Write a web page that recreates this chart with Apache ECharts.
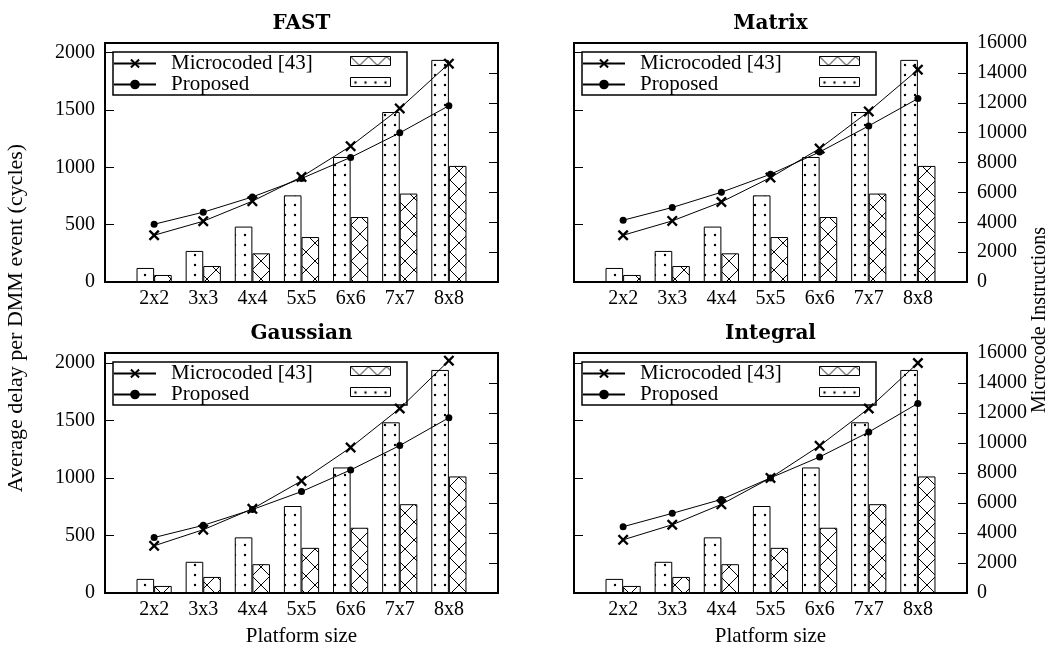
<!DOCTYPE html>
<html lang="en">
<head>
<meta charset="UTF-8">
<title>DMM delay per platform size</title>
<script src="https://cdn.jsdelivr.net/npm/echarts@6/dist/echarts.min.js"></script>
<style>
html,body{margin:0;padding:0;width:100%;height:100%;background:#fff;}
#main{width:1051px;height:649px;}
</style>
</head>
<body>
<div id="main"></div>
<script>
var platforms = ['2x2', '3x3', '4x4', '5x5', '6x6', '7x7', '8x8'];

// microcode instructions (right axis), same bars in every panel
var instrProposed = [940, 2080, 3710, 5800, 8370, 11380, 14870];
var instrMicro = [470, 1070, 1920, 3010, 4350, 5920, 7770];

// average delay per DMM event (cycles)
var fastMicro = [408, 530, 705, 917, 1185, 1514, 1905];
var fastProposed = [504, 609, 742, 903, 1087, 1301, 1538];
var matrixMicro = [408, 533, 698, 911, 1164, 1488, 1852];
var matrixProposed = [539, 650, 783, 940, 1134, 1362, 1600];
var gaussMicro = [410, 550, 731, 974, 1264, 1603, 2018];
var gaussProposed = [482, 588, 725, 881, 1069, 1281, 1522];
var integralMicro = [462, 593, 770, 1000, 1279, 1603, 1998];
var integralProposed = [576, 692, 813, 1000, 1182, 1398, 1647];

var titles = ['FAST', 'Matrix', 'Gaussian', 'Integral'];
var delayMicro = [fastMicro, matrixMicro, gaussMicro, integralMicro];
var delayProposed = [fastProposed, matrixProposed, gaussProposed, integralProposed];

var FONT = 'Liberation Serif';

function dotTile() {
    var c = document.createElement('canvas');
    c.width = 10; c.height = 10;
    var g = c.getContext('2d');
    g.fillStyle = '#fff';
    g.fillRect(0, 0, 10, 10);
    g.fillStyle = '#000';
    g.beginPath();
    g.arc(5, 5, 1.2, 0, Math.PI * 2);
    g.fill();
    return c;
}
function hatchTile() {
    var c = document.createElement('canvas');
    c.width = 18; c.height = 18;
    var g = c.getContext('2d');
    g.fillStyle = '#fff';
    g.fillRect(0, 0, 18, 18);
    g.strokeStyle = '#000';
    g.lineWidth = 1;
    g.beginPath();
    g.moveTo(0, 0); g.lineTo(18, 18);
    g.moveTo(18, 0); g.lineTo(0, 18);
    g.stroke();
    return c;
}
var dots = { image: dotTile(), repeat: 'repeat' };
var hatch = { image: hatchTile(), repeat: 'repeat' };
var xMark = 'path://M0,1.5L1.5,0L5,3.5L8.5,0L10,1.5L6.5,5L10,8.5L8.5,10L5,6.5L1.5,10L0,8.5L3.5,5Z';

// panel frames: left, top, height
var boxes = [[105, 43, 239], [574, 43, 239], [105, 353, 240], [574, 353, 240]];
var W = 393;

function pad(arr, v) { return [v].concat(arr, [v]); }
function plain(v) { return String(v); }

var grid = [], xAxis = [], yAxis = [], series = [], legend = [], graphic = [];

boxes.forEach(function (b, i) {
    var isLeft = (i % 2 === 0);
    grid.push({ left: b[0], top: b[1], width: W, height: b[2], show: true, borderColor: '#000', borderWidth: 2, backgroundColor: 'transparent' });
    xAxis.push({
        type: 'category', gridIndex: i, data: pad(platforms, ''), boundaryGap: false,
        axisLine: { show: false }, axisTick: { show: false }, splitLine: { show: false },
        axisLabel: { interval: 0, margin: 7, color: '#000', fontFamily: FONT, fontSize: 20 }
    });
    yAxis.push({
        type: 'value', gridIndex: i, position: 'left', min: 0, max: 2085, interval: 500,
        axisLine: { show: false }, splitLine: { show: false },
        axisTick: { show: true, inside: true, length: 9, lineStyle: { color: '#000', width: 1 } },
        axisLabel: { show: isLeft, showMaxLabel: false, margin: 10, formatter: plain, color: '#000', fontFamily: FONT, fontSize: 20 }
    });
    yAxis.push({
        type: 'value', gridIndex: i, position: 'right', min: 0, max: 16000, interval: 2000,
        axisLine: { show: false }, splitLine: { show: false },
        axisTick: { show: true, inside: true, length: 9, lineStyle: { color: '#000', width: 1 } },
        axisLabel: { show: !isLeft, margin: 10, formatter: plain, color: '#000', fontFamily: FONT, fontSize: 20 }
    });
    series.push({
        name: 'Proposed instr', type: 'bar', xAxisIndex: i, yAxisIndex: 2 * i + 1,
        data: pad(instrProposed, '-'), barWidth: 17.6, barGap: '0%',
        itemStyle: { color: dots, borderColor: '#000', borderWidth: 1 }
    });
    series.push({
        name: 'Microcoded instr', type: 'bar', xAxisIndex: i, yAxisIndex: 2 * i + 1,
        data: pad(instrMicro, '-'), barWidth: 17.6, barGap: '0%',
        itemStyle: { color: hatch, borderColor: '#000', borderWidth: 1 }
    });
    series.push({
        name: 'Microcoded [43]', type: 'line', xAxisIndex: i, yAxisIndex: 2 * i,
        data: pad(delayMicro[i], '-'), symbol: xMark, symbolSize: 11,
        itemStyle: { color: '#000' }, lineStyle: { color: '#000', width: 1 }, z: 5
    });
    series.push({
        name: 'Proposed', type: 'line', xAxisIndex: i, yAxisIndex: 2 * i,
        data: pad(delayProposed[i], '-'), symbol: 'circle', symbolSize: 7,
        itemStyle: { color: '#000' }, lineStyle: { color: '#000', width: 1 }, z: 5
    });
    legend.push({
        left: b[0] + 8, top: b[1] + 10, orient: 'vertical', padding: 0, itemGap: 0,
        itemWidth: 42, itemHeight: 12, selectedMode: false,
        data: ['Microcoded [43]', 'Proposed'],
        textStyle: { fontFamily: FONT, fontSize: 21, color: '#000', lineHeight: 20, padding: [0, 0, 0, 10] }
    });
    legend.push({
        left: b[0] + 245, top: b[1] + 13, orient: 'vertical', padding: 0, itemGap: 11,
        itemWidth: 40, itemHeight: 9, selectedMode: false, icon: 'rect',
        data: ['Microcoded instr', 'Proposed instr'],
        formatter: function () { return ''; },
        itemStyle: { borderColor: '#000', borderWidth: 1 },
        textStyle: { fontFamily: FONT, fontSize: 21 }
    });
    graphic.push({
        type: 'rect', z: 3,
        shape: { x: b[0] + 8, y: b[1] + 9, width: 294, height: 43 },
        style: { fill: '#fff', stroke: '#000', lineWidth: 1.5 }
    });
    graphic.push({
        type: 'text', x: b[0] + W / 2, y: b[1] - 19,
        style: { text: titles[i], fill: '#000', fontFamily: 'DejaVu Serif', fontWeight: 'bold', fontSize: 20, align: 'center', verticalAlign: 'middle' }
    });
    if (i >= 2) {
        graphic.push({
            type: 'text', x: b[0] + W / 2, y: 636,
            style: { text: 'Platform size', fill: '#000', fontFamily: FONT, fontSize: 21, align: 'center', verticalAlign: 'middle' }
        });
    }
});

graphic.push({
    type: 'text', x: 16, y: 318, rotation: Math.PI / 2,
    style: { text: 'Average delay per DMM event (cycles)', fill: '#000', fontFamily: FONT, fontSize: 22, align: 'center', verticalAlign: 'middle' }
});
graphic.push({
    type: 'text', x: 1040, y: 320, rotation: Math.PI / 2,
    style: { text: 'Microcode Instructions', fill: '#000', fontFamily: FONT, fontSize: 20, align: 'center', verticalAlign: 'middle' }
});

var myChart = echarts.init(document.getElementById('main'), null, { renderer: 'canvas' });
myChart.setOption({
    animation: false,
    backgroundColor: '#fff',
    grid: grid,
    xAxis: xAxis,
    yAxis: yAxis,
    legend: legend,
    graphic: graphic,
    series: series
});
</script>
</body>
</html>
